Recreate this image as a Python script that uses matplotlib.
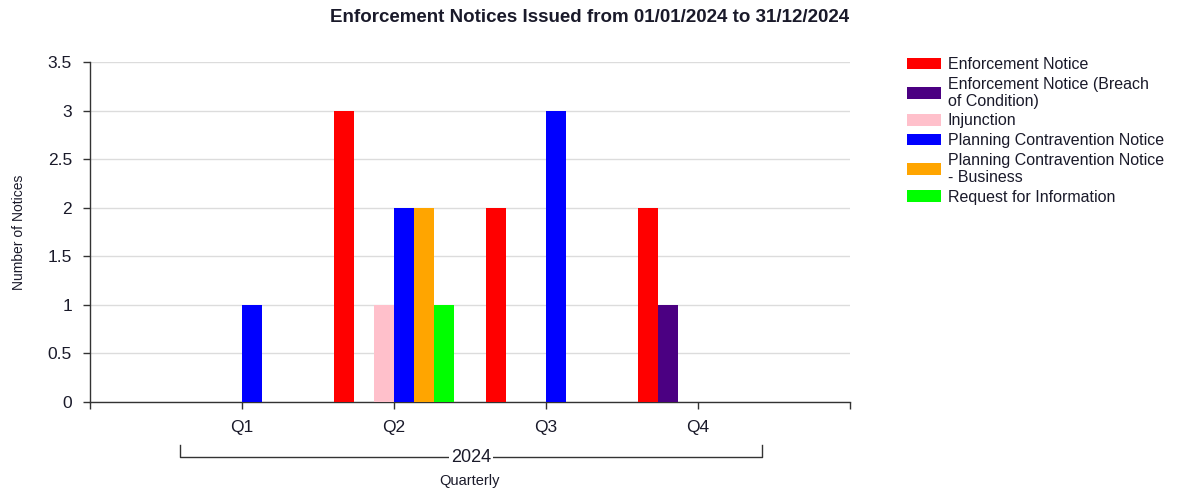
import matplotlib
matplotlib.use("Agg")
import matplotlib.pyplot as plt
import numpy as np

categories = ["Q1", "Q2", "Q3", "Q4"]
series_names = [
    "Enforcement Notice",
    "Enforcement Notice (Breach\nof Condition)",
    "Injunction",
    "Planning Contravention Notice",
    "Planning Contravention Notice\n- Business",
    "Request for Information",
]
enforcement_notice = [0, 3, 2, 2]
enforcement_breach = [0, 0, 0, 1]
injunction = [0, 1, 0, 0]
pcn = [1, 2, 3, 0]
pcn_business = [0, 2, 0, 0]
request_info = [0, 1, 0, 0]
series_values = [enforcement_notice, enforcement_breach, injunction, pcn, pcn_business, request_info]
colors = ["#FF0000", "#4B0082", "#FFC0CB", "#0000FF", "#FFA500", "#00FF00"]
yticks = [0, 0.5, 1, 1.5, 2, 2.5, 3, 3.5]
ytick_labels = ["0", "0.5", "1", "1.5", "2", "2.5", "3", "3.5"]
year_label = "2024"
title = "Enforcement Notices Issued from 01/01/2024 to 31/12/2024"

plt.rcParams['font.family'] = ['Liberation Sans', 'DejaVu Sans']
txt = "#1a1a2a"
axc = "#333333"

fig = plt.figure(figsize=(11.83, 4.90), dpi=100)
W, H = 1183, 490
ax = fig.add_axes([90 / W, 1 - 402 / H, (850 - 90) / W, (402 - 62) / H])

x = np.arange(len(categories))
w = 0.1316
handles = []
for i, (vals, c) in enumerate(zip(series_values, colors)):
    b = ax.bar(x + (i - 2.5) * w, vals, width=w, color=c, edgecolor='none', zorder=3, align='center')
    handles.append(b)

ax.set_xlim(-1, 4)
ax.set_ylim(0, 3.5)
ax.set_yticks(yticks)
ax.set_yticklabels(ytick_labels)
ax.set_xticks(x)
ax.set_xticklabels(categories)
ax.set_xticks([-1, 4], minor=True)
ax.tick_params(axis='both', which='both', direction='out', length=5, width=1, color=axc,
               labelsize=12.5, labelcolor=txt, pad=8)
ax.tick_params(axis='x', pad=8)
ax.yaxis.grid(True, color="#dcdcdc", linewidth=1, zorder=0)
ax.set_axisbelow(True)
for s in ['top', 'right']:
    ax.spines[s].set_visible(False)
for s in ['left', 'bottom']:
    ax.spines[s].set_color(axc)
    ax.spines[s].set_linewidth(1)

ax.set_ylabel("Number of Notices", fontsize=10, color=txt)
ax.yaxis.set_label_coords(-(90 - 19) / 760, 0.5)
ax.yaxis.label.set_va('center')

# year bracket
tr = ax.get_xaxis_transform()
yb = -(457 - 402) / 340
ye = -(445 - 402) / 340
xl, xr = -0.41, 3.42
ax.plot([xl, xl, xr, xr], [ye, yb, yb, ye], transform=tr, color=axc, lw=1, clip_on=False)
ax.text((xl + xr) / 2, yb, year_label, transform=tr, ha='center', va='center', fontsize=13,
        color=txt, bbox=dict(facecolor='white', edgecolor='none', pad=1.5))
ax.text(1.5, -(481 - 402) / 340, "Quarterly", transform=tr, ha='center', va='center',
        fontsize=10.5, color=txt)

fig.text(590 / W, 1 - 17 / H, title, ha='center', va='center', fontsize=13.5,
         fontweight='bold', color=txt)

fig.legend(handles, series_names, loc='upper left', bbox_to_anchor=(907 / W, 1 - 57 / H),
           frameon=False, fontsize=11.5, handlelength=2.1, handleheight=0.75,
           handletextpad=0.45, labelspacing=0.3, borderaxespad=0, borderpad=0,
           labelcolor=txt)
for t in fig.legends[0].get_texts():
    t.set_linespacing(1.15)

fig.savefig("out.png", dpi=100, facecolor='white')
